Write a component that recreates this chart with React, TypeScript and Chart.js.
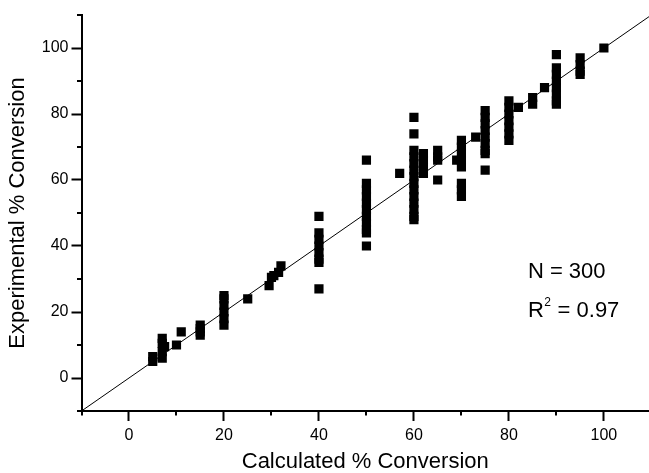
import React, { useEffect, useRef } from 'react';
import { Chart, registerables } from 'chart.js';

Chart.register(...registerables);

// Calculated % conversion (x) and experimental % conversion (y)
const calculated = [
  5, 5,
  7, 7, 7.5, 7, 7,
  10, 11,
  15, 15, 15, 15,
  20, 20, 20, 20, 20, 20,
  25,
  29.5, 30, 30.5, 31.5, 32,
  40, 40, 40, 40, 40, 40, 40, 40,
  50, 50, 50, 50, 50, 50, 50, 50, 50, 50, 50,
  57,
  60, 60, 60, 60, 60, 60, 60, 60, 60, 60, 60, 60, 60, 60,
  62, 62, 62, 62,
  65, 65, 65, 65,
  69,
  70, 70, 70, 70, 70, 70, 70, 70,
  73,
  75, 75, 75, 75, 75, 75, 75, 75, 75,
  80, 80, 80, 80, 80, 80, 80,
  82,
  85, 85,
  87.5,
  90, 90, 90, 90, 90, 90, 90, 90,
  95, 95, 95, 95,
  100,
];
const experimental = [
  5, 6.5,
  6, 8, 9.5, 10.5, 12,
  10, 14,
  13, 14, 15, 16,
  16, 18, 20, 22, 24, 25,
  24,
  28, 30.5, 31, 32, 34,
  49, 44, 42, 40, 38, 36, 35, 27,
  66, 59, 57, 55, 53, 51, 49, 47, 45, 44, 40,
  62,
  79, 74, 69, 67, 65, 63, 61, 59, 57, 55, 53, 51, 49, 48,
  68, 66, 64, 62,
  69, 67, 66, 60,
  66,
  72, 70, 68, 66, 64, 59, 57, 55,
  73,
  81, 79, 77, 75, 73, 71, 69, 68, 63,
  84, 82, 80, 78, 76, 74, 72,
  82,
  85, 83,
  88,
  98, 94, 92, 90, 88, 86, 84, 83,
  97, 95, 93, 92,
  100,
];

const fitLineX = [-10, 110];
const xTicks = [-10, 0, 10, 20, 30, 40, 50, 60, 70, 80, 90, 100];
const yTicks = [-10, 0, 10, 20, 30, 40, 50, 60, 70, 80, 90, 100, 110];
const xTitle = 'Calculated % Conversion';
const yTitle = 'Experimental % Conversion';
const nText = 'N = 300';
const rText = ['R', '2', ' = 0.97'];
const annotAt = { x: 84, nY: 32, rY: 20.4 };

const FAMILY = '"Liberation Sans", Arial, Helvetica, sans-serif';
const isMajor = (v: number) => v % 20 === 0;

const decorPlugin = {
  id: 'decor',
  afterDraw(chart: any) {
    const { ctx } = chart;
    const xs = chart.scales.x;
    const ys = chart.scales.y;
    ctx.save();
    // minor (short) tick marks
    ctx.strokeStyle = '#000';
    ctx.lineWidth = 2;
    ctx.beginPath();
    for (const v of xTicks) {
      if (isMajor(v)) continue;
      const px = Math.round(xs.getPixelForValue(v));
      ctx.moveTo(px, xs.top);
      ctx.lineTo(px, xs.top + 4.5);
    }
    for (const v of yTicks) {
      if (isMajor(v)) continue;
      const py = Math.round(ys.getPixelForValue(v));
      ctx.moveTo(ys.right - 4.5, py);
      ctx.lineTo(ys.right, py);
    }
    ctx.stroke();

    // statistics text
    const x0 = xs.getPixelForValue(annotAt.x);
    ctx.fillStyle = '#000';
    ctx.textBaseline = 'middle';
    ctx.textAlign = 'left';
    ctx.font = `22px ${FAMILY}`;
    ctx.fillText(nText, x0, ys.getPixelForValue(annotAt.nY));
    const ry = ys.getPixelForValue(annotAt.rY);
    ctx.fillText(rText[0], x0, ry);
    const wR = ctx.measureText(rText[0]).width;
    ctx.font = `12px ${FAMILY}`;
    ctx.fillText(rText[1], x0 + wR + 0.5, ry - 8);
    const w2 = ctx.measureText(rText[1]).width;
    ctx.font = `22px ${FAMILY}`;
    ctx.fillText(rText[2], x0 + wR + w2 + 1, ry);
    ctx.restore();
  },
};

export default function App() {
  const canvasRef = useRef<HTMLCanvasElement | null>(null);

  useEffect(() => {
    if (!canvasRef.current) return;
    const points = calculated.map((x, i) => ({ x, y: experimental[i] }));
    const line = fitLineX.map((v) => ({ x: v, y: v }));

    const tickCfg = (padding: number) => ({
      callback: (v: any) => (isMajor(Number(v)) ? String(v) : ''),
      font: { size: 16, family: FAMILY },
      color: '#000',
      padding,
      autoSkip: false,
      maxRotation: 0,
    });
    const gridCfg = {
      drawOnChartArea: false,
      drawTicks: true,
      tickLength: 10,
      tickColor: (c: any) => (c.tick && isMajor(c.tick.value) ? '#000' : 'rgba(0,0,0,0)'),
      tickWidth: 2,
    };

    const chart = new Chart(canvasRef.current, {
      type: 'scatter',
      data: {
        datasets: [
          {
            data: points,
            pointStyle: 'rect',
            pointRadius: 6.5,
            pointHoverRadius: 6.5,
            backgroundColor: '#000',
            borderColor: '#000',
            borderWidth: 0,
          },
          {
            type: 'line',
            data: line,
            borderColor: '#000',
            borderWidth: 1,
            pointRadius: 0,
            fill: false,
          } as any,
        ],
      },
      options: {
        animation: false,
        responsive: true,
        maintainAspectRatio: false,
        layout: { autoPadding: false, padding: { top: 15, right: 0, left: 0, bottom: 0 } },
        plugins: { legend: { display: false }, tooltip: { enabled: false } },
        scales: {
          x: {
            type: 'linear',
            min: -10,
            max: 109.5,
            afterBuildTicks: (s: any) => {
              s.ticks = xTicks.map((v) => ({ value: v }));
            },
            afterFit: (s: any) => {
              s.height = 62;
              s.paddingRight = 0;
              s.paddingLeft = 0;
            },
            grid: gridCfg as any,
            border: { display: true, color: '#000', width: 2 },
            ticks: tickCfg(5),
            title: {
              display: true,
              text: xTitle,
              color: '#000',
              font: { size: 22, family: FAMILY, lineHeight: 1 },
              padding: { top: 0, bottom: 0 },
            },
          },
          y: {
            type: 'linear',
            min: -10,
            max: 110,
            afterBuildTicks: (s: any) => {
              s.ticks = yTicks.map((v) => ({ value: v }));
            },
            afterFit: (s: any) => {
              s.width = 81.5;
            },
            grid: gridCfg as any,
            border: { display: true, color: '#000', width: 2 },
            ticks: tickCfg(3),
            title: {
              display: true,
              text: yTitle,
              color: '#000',
              font: { size: 22, family: FAMILY, lineHeight: 1 },
              padding: { top: 7, bottom: 0 },
            },
          },
        },
      },
      plugins: [decorPlugin],
    });
    return () => chart.destroy();
  }, []);

  return (
    <div style={{ position: 'fixed', left: 0, top: 0, width: 649, height: 473, background: '#fff' }}>
      <canvas ref={canvasRef} />
    </div>
  );
}
